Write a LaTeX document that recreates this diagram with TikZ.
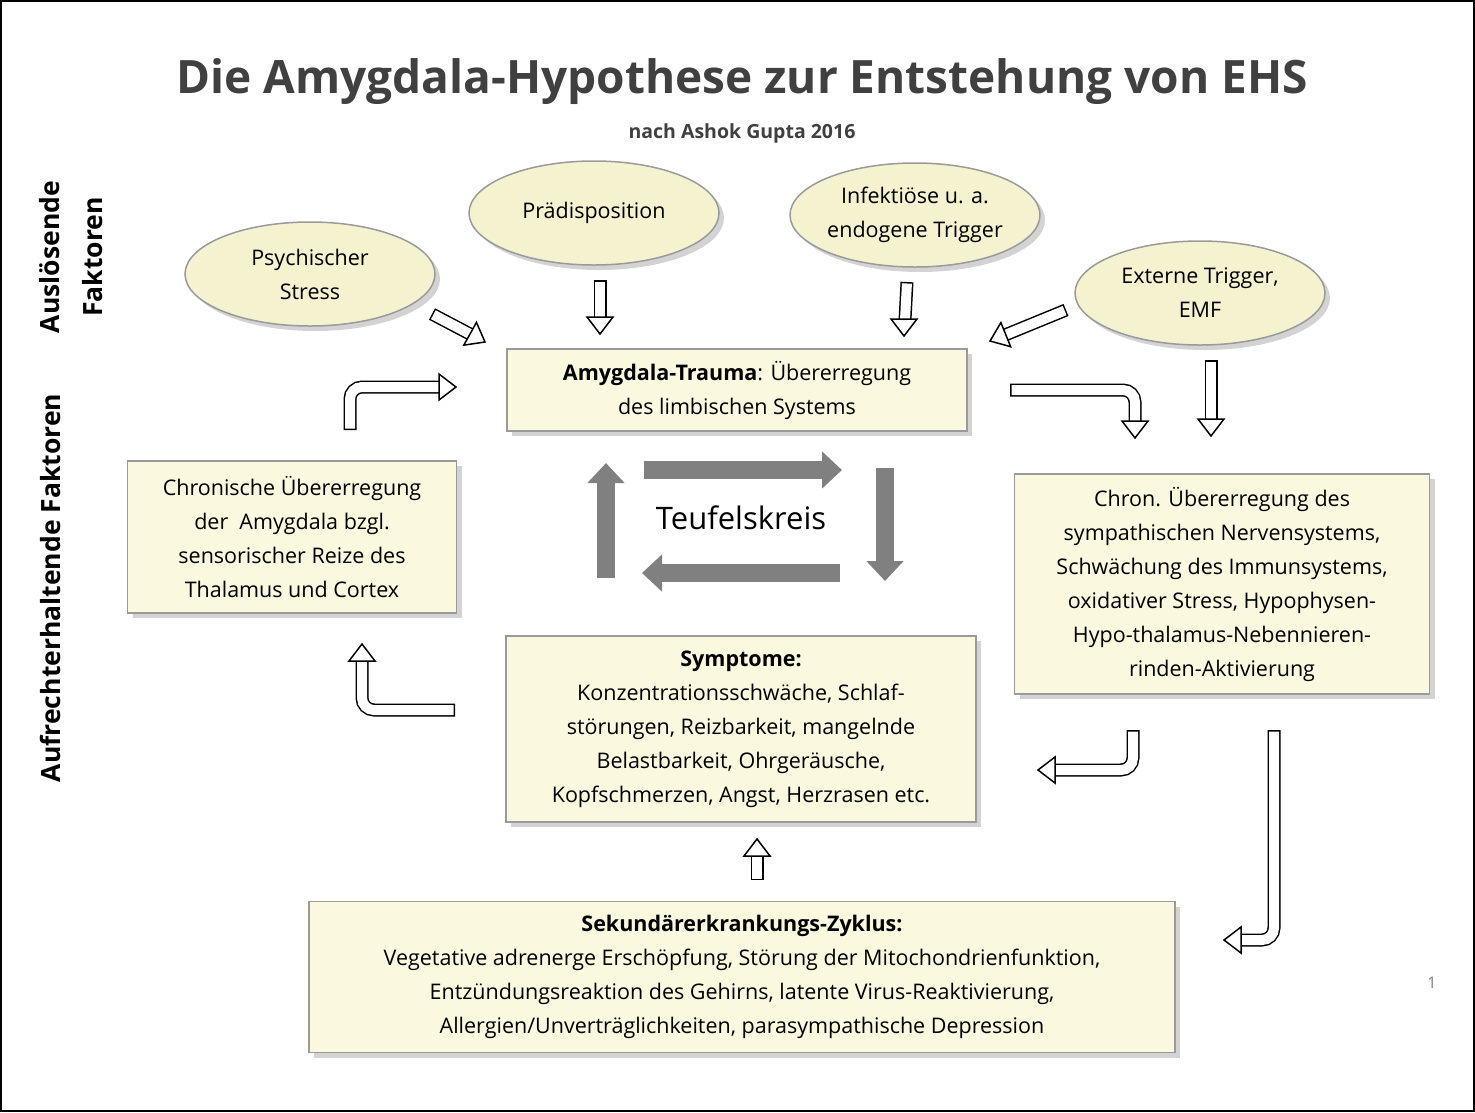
\documentclass[tikz,border=0pt]{standalone}
\usepackage{fontspec}
\setmainfont{Open Sans}
\usetikzlibrary{arrows.meta,shadows,shapes.geometric}
\definecolor{boxfill}{HTML}{FAF8DE}
\definecolor{ellfill}{HTML}{F5F2D0}
\definecolor{boxline}{HTML}{9A9A9A}
\definecolor{titlegray}{HTML}{404040}
\definecolor{cyclegray}{HTML}{808080}
\tikzset{
  slide/.style={x=1pt,y=-1pt},
  txt/.style={font=\fontsize{21.5}{34}\selectfont,align=center},
  box/.style={txt,draw=boxline,line width=1.5pt,fill=boxfill,
    drop shadow={opacity=0.35,shadow xshift=5pt,shadow yshift=-5pt}},
  bubble/.style={txt,ellipse,draw=boxline,line width=1.5pt,fill=ellfill,
    inner sep=0pt,minimum width=250pt,minimum height=104pt,
    drop shadow={opacity=0.35,shadow xshift=5pt,shadow yshift=-5pt}},
  cycle/.style={line width=18pt,cyclegray,-{Triangle[width=36pt,length=20pt]}},
  side/.style={font=\fontsize{26.5}{36}\selectfont\bfseries,rotate=90}
}
% hollow block arrow: path, tip, angle
\newcommand\hollow[3]{%
  \draw[line width=13pt,rounded corners=12pt] #1;
  \draw[line width=10pt,white,rounded corners=12pt,shorten <=1.5pt] #1;
  \filldraw[fill=white,line width=1.5pt,shift={#2},rotate=#3]
    (0,0) -- (-17,13) -- (-17,-13) -- cycle;}
\begin{document}
\begin{tikzpicture}[slide]
  \useasboundingbox (0,0) rectangle (1475,1112);
  \draw[line width=2pt] (1,1) rectangle (1474,1111);
  % titles
  \node[titlegray,font=\fontsize{46}{52}\selectfont\bfseries] (title) at (742,82)
    {Die Amygdala-Hypothese zur Entstehung von EHS};
  \node[titlegray,font=\fontsize{19.5}{24}\selectfont\bfseries] (sub) at (742,133)
    {nach Ashok Gupta 2016};
  \node[side] (ausl) at (50,257) {Auslösende};
  \node[side] (fakt) at (93,257) {Faktoren};
  \node[side] (aufr) at (50,588) {Aufrechterhaltende Faktoren};
  % triggers
  \node[bubble] (stress) at (310,274) {Psychischer\\Stress};
  \node[bubble] (praed) at (594,213) {Prädisposition};
  \node[bubble] (infekt) at (915,215) {Infektiöse u. a.\\endogene Trigger};
  \node[bubble] (extern) at (1200,293) {Externe Trigger,\\EMF};
  % boxes
  \node[box,minimum width=460pt,minimum height=82pt] (trauma) at (737,390)
    {\textbf{Amygdala-Trauma}: Übererregung\\des limbischen Systems};
  \node[box,minimum width=329pt,minimum height=152pt] (chron) at (292,537)
    {Chronische Übererregung\\der\ \ Amygdala bzgl.\\sensorischer Reize des\\Thalamus und Cortex};
  \node[box,minimum width=415pt,minimum height=220pt] (sympath) at (1222,584)
    {Chron. Übererregung des\\sympathischen Nervensystems,\\Schwächung des Immunsystems,\\oxidativer Stress, Hypophysen-\\Hypo-thalamus-Nebennieren-\\rinden-Aktivierung};
  \node[box,minimum width=470pt,minimum height=186pt] (sympt) at (741,729)
    {\textbf{Symptome:}\\Konzentrationsschwäche, Schlaf-\\störungen, Reizbarkeit, mangelnde\\Belastbarkeit, Ohrgeräusche,\\Kopfschmerzen, Angst, Herzrasen etc.};
  \node[box,minimum width=866pt,minimum height=151pt] (sekund) at (742,977)
    {\textbf{Sekundärerkrankungs-Zyklus:}\\Vegetative adrenerge Erschöpfung, Störung der Mitochondrienfunktion,\\Entzündungsreaktion des Gehirns, latente Virus-Reaktivierung,\\Allergien/Unverträglichkeiten, parasympathische Depression};
  % vicious circle
  \node[font=\fontsize{31}{36}\selectfont] (kreis) at (741,518) {Teufelskreis};
  \draw[cycle] (644,470) -- (842,470);
  \draw[cycle] (885,468) -- (885,581);
  \draw[cycle] (840,573) -- (642,573);
  \draw[cycle] (606,578) -- (606,463);
  % hollow arrows
  \hollow{(432,314) -- (470,334)}{(485,342)}{-29}
  \hollow{(600,280) -- (600,318)}{(600,334)}{-90}
  \hollow{(907,282) -- (905,320)}{(904,336)}{-90}
  \hollow{(1066,310) -- (1005,335)}{(990,341)}{-158}
  \hollow{(1211,360) -- (1211,420)}{(1211,436)}{-90}
  \hollow{(1010,390) -- (1135,390) -- (1135,422)}{(1135,438)}{-90}
  \hollow{(350,430) -- (350,387) -- (440,387)}{(456,387)}{0}
  \hollow{(455,710) -- (362,710) -- (362,660)}{(362,644)}{90}
  \hollow{(1133,730) -- (1133,770) -- (1054,770)}{(1038,770)}{180}
  \hollow{(1274,730) -- (1274,940) -- (1240,940)}{(1224,940)}{180}
  \hollow{(757,880) -- (757,855)}{(757,839)}{90}
  \node[gray,font=\fontsize{16}{20}\selectfont] (page) at (1432,983) {1};
\end{tikzpicture}
\end{document}
